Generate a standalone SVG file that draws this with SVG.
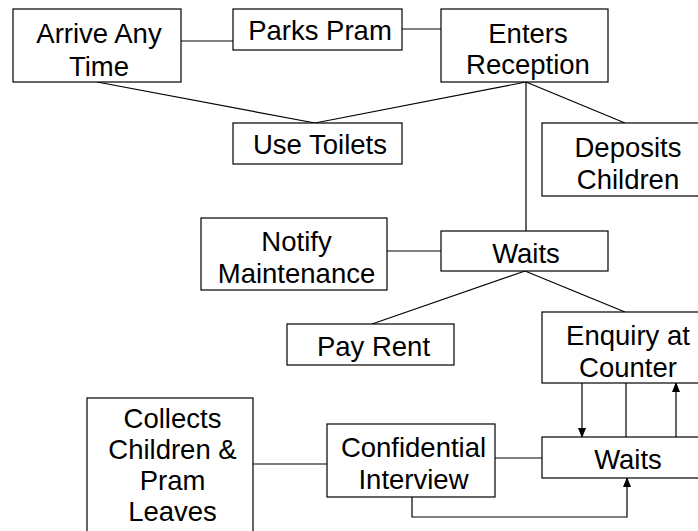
<svg xmlns="http://www.w3.org/2000/svg" width="698" height="531" viewBox="0 0 698 531">
<defs>
<style>
.box{fill:#fff;stroke:#000;stroke-width:1.2}
.ln{fill:none;stroke:#000;stroke-width:1.2}
text{font-family:"Liberation Sans",Arial,sans-serif;font-size:27.5px;fill:#000;text-anchor:middle}
</style>
<marker id="ah" markerWidth="10" markerHeight="10" refX="9" refY="5" orient="auto" markerUnits="userSpaceOnUse">
<path d="M0,1 L10,5 L0,9 Z" fill="#000"/>
</marker>
</defs>
<g id="connectors">
<line class="ln" x1="181" y1="41" x2="233" y2="41"/>
<line class="ln" x1="402" y1="29" x2="441" y2="29"/>
<line class="ln" x1="97" y1="82" x2="315" y2="123"/>
<line class="ln" x1="526" y1="82" x2="315" y2="123"/>
<line class="ln" x1="526" y1="82" x2="625" y2="123"/>
<line class="ln" x1="526" y1="82" x2="526" y2="231"/>
<line class="ln" x1="387" y1="251" x2="441" y2="251"/>
<line class="ln" x1="525" y1="271" x2="372" y2="324"/>
<line class="ln" x1="525" y1="271" x2="625" y2="312"/>
<line class="ln" x1="582" y1="383" x2="582" y2="437" marker-end="url(#ah)"/>
<line class="ln" x1="626" y1="383" x2="626" y2="437"/>
<line class="ln" x1="676" y1="437" x2="676" y2="383" marker-end="url(#ah)"/>
<polyline class="ln" points="412,497 412,517 627,517 627,478" marker-end="url(#ah)"/>
<line class="ln" x1="495" y1="458" x2="542" y2="458"/>
<line class="ln" x1="253" y1="464" x2="327" y2="464"/>
</g>
<g id="arrive"><rect class="box" x="13" y="9" width="168" height="73"/><text x="99" y="43">Arrive Any</text><text x="99" y="76">Time</text></g>
<g id="parks"><rect class="box" x="233" y="9" width="169" height="41"/><text x="320" y="40">Parks Pram</text></g>
<g id="enters"><rect class="box" x="441" y="9" width="167" height="73"/><text x="528" y="43">Enters</text><text x="528" y="74">Reception</text></g>
<g id="toilets"><rect class="box" x="233" y="123" width="169" height="41"/><text x="320" y="154">Use Toilets</text></g>
<g id="deposits"><rect class="box" x="542" y="123" width="160" height="73"/><text x="628" y="157">Deposits</text><text x="628" y="189">Children</text></g>
<g id="notify"><rect class="box" x="201" y="218" width="186" height="72"/><text x="296.5" y="251">Notify</text><text x="296.5" y="283">Maintenance</text></g>
<g id="waits1"><rect class="box" x="441" y="231" width="167" height="40"/><text x="526" y="263">Waits</text></g>
<g id="payrent"><rect class="box" x="287" y="324" width="167" height="41"/><text x="373.5" y="356">Pay Rent</text></g>
<g id="enquiry"><rect class="box" x="542" y="312" width="160" height="71"/><text x="628" y="345">Enquiry at</text><text x="628" y="377">Counter</text></g>
<g id="waits2"><rect class="box" x="542" y="437" width="160" height="41"/><text x="628" y="469">Waits</text></g>
<g id="confidential"><rect class="box" x="327" y="424" width="168" height="73"/><text x="413.5" y="457">Confidential</text><text x="413.5" y="489">Interview</text></g>
<g id="collects"><rect class="box" x="87" y="398" width="166" height="140"/><text x="172.5" y="428">Collects</text><text x="172.5" y="459">Children &amp;</text><text x="172.5" y="490">Pram</text><text x="172.5" y="521">Leaves</text></g>
</svg>
